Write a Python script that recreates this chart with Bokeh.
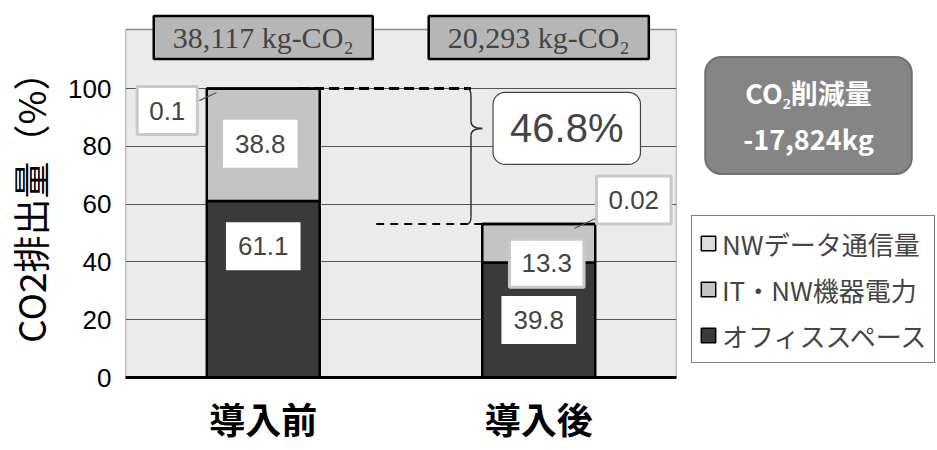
from bokeh.plotting import figure
from bokeh.layouts import row
from bokeh.models import (FactorRange, Range1d, Label, Legend, LegendItem,
                          FixedTicker, ColumnDataSource)
from bokeh.embed import file_html
from bokeh.resources import INLINE

# ---------------- data ----------------
categories = ["導入前", "導入後"]
office = [61.1, 39.8]          # オフィススペース
itnw = [38.8, 13.3]            # IT・NW機器電力
nwdata = [0.1, 0.02]           # NWデータ通信量
series_names = ["オフィススペース", "IT・NW機器電力", "NWデータ通信量"]
totals_kg = ["38,117 kg-CO₂", "20,293 kg-CO₂"]
reduction_pct = "46.8%"
reduction_kg = "CO₂削減量\n-17,824kg"
y_ticks = [0, 20, 40, 60, 80, 100]
y_label = "CO2排出量（%）"
y_max = 120.4                  # top of the plotting area

colors = ["#3a3a3a", "#c4c4c4", "#dcdcdc"]
JP = "Noto Sans CJK JP"
SANS = "Liberation Sans"
SERIF = "Liberation Serif"

# ---------------- main chart ----------------
p = figure(x_range=FactorRange(*categories), y_range=Range1d(0, 130.45),
           width=680, height=450, output_backend="svg", toolbar_location=None,
           min_border_left=124, min_border_right=4, min_border_top=0,
           min_border_bottom=73)
p.background_fill_color = "white"
p.border_fill_color = "white"
p.outline_line_color = None


def cx(cat):
    # synthetic coordinate of a factor's centre on the FactorRange
    return categories.index(cat) + 0.5


c1, c2 = categories

# plotting-area background spanning the whole category range
bg = p.quad(left=[(c1, -0.5)], right=[(c2, 0.5)], bottom=[0], top=[y_max],
            fill_color="#ebebeb", line_color="#8c8c8c", line_width=1.5)
bg.level = "image"

src = ColumnDataSource(dict(cat=categories, office=office, it=itnw, nw=nwdata))
rs = p.vbar_stack(["office", "it", "nw"], x="cat", width=0.41, source=src,
                  fill_color=colors, line_color="black", line_width=2.5)

# axes
p.yaxis.ticker = FixedTicker(ticks=y_ticks)
p.ygrid.ticker = FixedTicker(ticks=y_ticks)
p.ygrid.grid_line_color = "#555555"
p.xgrid.grid_line_color = None
p.yaxis.axis_line_color = None
p.yaxis.major_tick_in = 0
p.yaxis.major_tick_out = 0
p.yaxis.minor_tick_line_color = None
p.yaxis.major_label_standoff = 14
p.yaxis.major_label_text_font = SANS
p.yaxis.major_label_text_font_size = "26px"
p.yaxis.major_label_text_color = "black"
p.yaxis.axis_label = y_label + "\u3000"
p.yaxis.axis_label_text_font = JP
p.yaxis.axis_label_text_font_size = "37px"
p.yaxis.axis_label_text_font_style = "normal"
p.yaxis.axis_label_text_color = "black"
p.yaxis.axis_label_standoff = 8

p.xaxis.axis_line_color = "black"
p.xaxis.axis_line_width = 3
p.xaxis.major_tick_in = 0
p.xaxis.major_tick_out = 0
p.xaxis.major_label_standoff = 14
p.xaxis.major_label_text_font = JP
p.xaxis.major_label_text_font_size = "36px"
p.xaxis.major_label_text_font_style = "bold"
p.xaxis.major_label_text_color = "black"

# value labels (boxes), positioned at segment centres with small nudges
stacks = [office, itnw, nwdata]
nudges = {(0, 0): (0, 43), (1, 1): (8, -20), (1, 0): (-3, 1),
          (2, 0): (-96, -22), (2, 1): (95, 24)}
bordered = {(2, 0), (1, 1), (2, 1)}
for ci, cat in enumerate(categories):
    base = 0.0
    for si, vals in enumerate(stacks):
        v = vals[ci]
        yc = base + v / 2.0 if si < 2 else base + v
        base += v
        dx, dy = nudges.get((si, ci), (0, 0))
        bord = (si, ci) in bordered
        p.add_layout(Label(x=cx(cat), y=yc, x_offset=dx, y_offset=dy, text=f"{v:g}",
                           text_font=SANS, text_font_size="26px",
                           text_align="center", text_baseline="middle",
                           background_fill_color="white",
                           border_line_color="#c8c8c8" if bord else None,
                           border_line_width=3,
                           padding=dict(left=12, right=12, top=15, bottom=15)))

tot = [office[i] + itnw[i] + nwdata[i] for i in range(2)]

# dashed reference lines at totals
p.segment(x0=[(c1, 0.13)], y0=[tot[0]], x1=[(c2, -0.246)], y1=[tot[0]],
          line_color="black", line_width=3, line_dash="10 5")
p.segment(x0=[(c1, 0.41)], y0=[tot[1]], x1=[(c2, -0.205)], y1=[tot[1]],
          line_color="black", line_width=2, line_dash="8 6")

# brace
pct_y = 86.2
xb, xl, xt = -0.246, -0.262, -0.205
t, b, m, r = tot[0], tot[1], pct_y, 2.5
p.quadratic(x0=[(c2, xl), (c2, xb), (c2, xt), (c2, xb)],
            y0=[t, m + r, m, b + r],
            x1=[(c2, xb), (c2, xt), (c2, xb), (c2, xl)],
            y1=[t - r, m, m - r, b],
            cx=[(c2, xb)] * 4, cy=[t, m, m, b],
            line_color="#333333", line_width=1.5)
p.segment(x0=[(c2, xb)] * 2, y0=[t - r, m - r], x1=[(c2, xb)] * 2, y1=[m + r, b + r],
          line_color="#333333", line_width=1.5)

# leader lines for the small values
p.segment(x0=[(c1, -0.232), (c2, 0.2065)], y0=[tot[0] - 4.2, tot[1] + 1.9],
          x1=[(c1, -0.17), (c2, 0.13)], y1=[tot[0] - 1.4, tot[1] - 1.5],
          line_color="#555555", line_width=1.2)

# totals boxes above the bars
for ci, cat in enumerate(categories):
    p.add_layout(Label(x=cx(cat), y=117.65, text=totals_kg[ci], text_font=SERIF,
                       text_font_size="30px", text_align="center",
                       text_baseline="middle", background_fill_color="#b6b6b6",
                       border_line_color="black", border_line_width=2.5,
                       padding=dict(left=19, right=19, top=5, bottom=5)))

# 46.8% box
p.add_layout(Label(x=cx(c2), y=pct_y, x_offset=28, text=reduction_pct, text_font=SANS,
                   text_font_size="40px", text_align="center", text_baseline="middle",
                   background_fill_color="white", border_line_color="#444444",
                   border_line_width=1.2, border_radius=12,
                   padding=dict(left=17, right=17, top=14, bottom=14)))

# ---------------- right-hand panel: reduction box + legend ----------------
PW = 257
p2 = figure(width=PW, height=450, x_range=FactorRange(*categories),
            y_range=Range1d(0, 377), output_backend="svg", toolbar_location=None,
            min_border_left=0, min_border_right=0, min_border_top=0,
            min_border_bottom=73, x_axis_location=None, y_axis_location=None)
p2.grid.visible = False
p2.outline_line_color = None
p2.background_fill_color = "white"
p2.border_fill_color = "white"

# reduction box (x in synthetic units of the 2-factor range -> 128 px)
p2.add_layout(Label(x=2 * 128 / PW, y=262, text=reduction_kg, text_font=JP,
                    text_font_size="27px", text_font_style="bold", text_color="white",
                    text_align="center", text_baseline="middle", text_line_height=1.18,
                    background_fill_color="#858585", border_line_color="#707070",
                    border_line_width=2, border_radius=16,
                    padding=dict(left=38, right=38, top=16, bottom=16)))

# hidden copies of the stacked bars, used only as legend swatches
proxies = p2.vbar_stack(["office", "it", "nw"], x="cat", width=0.41, source=src,
                        fill_color=colors, line_color="black", line_width=1.5)
for rr in proxies:
    rr.visible = False
legend = Legend(items=[LegendItem(label=series_names[i], renderers=[proxies[i]])
                       for i in (2, 1, 0)],
                location=(11, 14), margin=0, padding=7, spacing=6,
                glyph_width=18, glyph_height=18, label_standoff=5,
                label_height=40, label_width=205,
                label_text_font=JP, label_text_font_size="26px",
                border_line_color="black", border_line_width=1.5,
                background_fill_color="white", background_fill_alpha=1,
                inactive_fill_alpha=0)
p2.add_layout(legend)

layout = row(p, p2)
open("out.html", "w").write(file_html(layout, INLINE))
